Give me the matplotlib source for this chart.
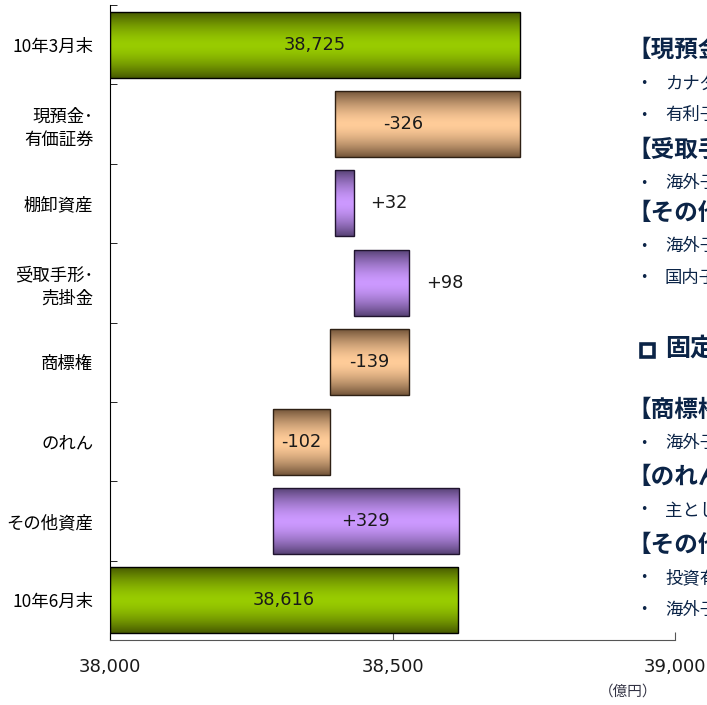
import numpy as np
import matplotlib
matplotlib.use("Agg")
import matplotlib.pyplot as plt
from matplotlib.colors import LinearSegmentedColormap, to_rgb
from matplotlib.patches import Rectangle
from matplotlib.transforms import offset_copy

plt.rcParams['font.family'] = ['Noto Sans CJK JP', 'DejaVu Sans']

# ---- data ----
categories = ["10年3月末", "現預金･\n有価証券", "棚卸資産", "受取手形･\n売掛金",
              "商標権", "のれん", "その他資産", "10年6月末"]
start_total = 38725
changes = [-326, 32, 98, -139, -102, 329]
end_total = 38616
change_labels = ["-326", "+32", "+98", "-139", "-102", "+329"]
x_ticks = [38000, 38500, 39000]
x_ticklabels = ["38,000", "38,500", "39,000"]
unit_label = "（億円）"

headings = [
    ("【現預金・有価証券】", ["カナダ子会社の現預金減少", "有利子負債の返済"]),
    ("【受取手形・売掛金】", ["海外子会社の増加"]),
    ("【その他流動資産】", ["海外子会社の増加", "国内子会社の増加"]),
]
section_title = "固定資産"
headings2 = [
    ("【商標権】", ["海外子会社の償却"]),
    ("【のれん】", ["主として償却による減少"]),
    ("【その他資産】", ["投資有価証券の増加", "海外子会社の増加"]),
]

# ---- figure ----
W, H = 707, 705
fig = plt.figure(figsize=(W / 100, H / 100), dpi=100)
ax = fig.add_axes([110 / W, (H - 640) / H, (675 - 110) / W, (640 - 5) / H])

xmin, xmax = 38000, 39000
ax.set_xlim(xmin, xmax)
ax.set_ylim(7.5, -0.5)

green = ("#475a00", "#99cc00", "#000000")
tan = ("#74563a", "#ffcc99", "#2e2014")
purple = ("#584276", "#cc99ff", "#20142e")

t = np.linspace(-1, 1, 128)
profile = np.clip(1 - np.abs(t) ** 1.6, 0, 1)
grad = profile.reshape(-1, 1)

bar_h = 0.83


def draw_bar(y, left, right, colors):
    dark, light, edge = colors
    cmap = LinearSegmentedColormap.from_list("g", [to_rgb(dark), to_rgb(light)])
    ax.imshow(grad, cmap=cmap, aspect='auto', vmin=0, vmax=1,
              extent=[left, right, y + bar_h / 2, y - bar_h / 2],
              interpolation='bilinear', zorder=2)
    ax.barh(y, right - left, left=left, height=bar_h, facecolor='none',
            edgecolor=edge, linewidth=1.0, zorder=3)


label_kw = dict(fontsize=12.8, color='#1a1a1a', family='DejaVu Sans', zorder=4)

# totals
draw_bar(0, xmin, start_total, green)
ax.text((xmin + start_total) / 2, 0, f"{start_total:,}", ha='center', va='center',
        **label_kw)
draw_bar(7, xmin, end_total, green)
ax.text((xmin + end_total) / 2, 7, f"{end_total:,}", ha='center', va='center',
        **label_kw)

# changes
level = start_total
for i, (d, lab) in enumerate(zip(changes, change_labels)):
    y = i + 1
    new = level + d
    left, right = min(level, new), max(level, new)
    draw_bar(y, left, right, purple if d > 0 else tan)
    if abs(d) < 100 and d > 0:
        tr = offset_copy(ax.transData, fig=fig, x=17, y=0, units='dots')
        ax.text(right, y, lab, ha='left', va='center', transform=tr, **label_kw)
    else:
        dx = -24 if i == 0 else 0
        tr = offset_copy(ax.transData, fig=fig, x=dx, y=0, units='dots')
        ax.text((left + right) / 2, y, lab, ha='center', va='center',
                transform=tr, **label_kw)
    level = new

# axes styling
for s in ('top', 'right'):
    ax.spines[s].set_visible(False)
ax.spines['left'].set_color('#000000')
ax.spines['bottom'].set_color('#555555')

ax.set_yticks(range(len(categories)))
ax.set_yticklabels(categories, fontsize=12.5, linespacing=1.35)
ax.tick_params(axis='y', length=0, pad=12)
ax.set_yticks(np.arange(-0.5, 7.5, 1.0), minor=True)
ax.tick_params(axis='y', which='minor', direction='in', length=5, color='#000000')

ax.set_xticks(x_ticks)
ax.set_xticklabels(x_ticklabels, family='DejaVu Sans', fontsize=13, color='#1a1a1a')
ax.tick_params(axis='x', direction='in', length=6, pad=13, color='#555555')

fig.text(628 / W, 1 - 692 / H, unit_label, fontsize=10.5, style='italic',
         color='#333344', ha='center', va='center')

# commentary panel on the right
navy = '#0b2447'
hx, bx, tx = 627, 640, 665


def put_block(items, y):
    for head, bullets in items:
        fig.text(hx / W, 1 - y / H, head, fontsize=17, fontweight='bold',
                 color=navy, ha='left', va='center')
        y += 33
        for b in bullets:
            fig.text(bx / W, 1 - y / H, "•", fontsize=9, color=navy,
                     ha='left', va='center', family='DejaVu Sans')
            fig.text(tx / W, 1 - y / H, b, fontsize=12.5, color=navy,
                     ha='left', va='center')
            y += 32
    return y


put_block(headings[:1], 50)
put_block(headings[1:2], 150)
put_block(headings[2:], 213)
fig.patches.append(Rectangle((641 / W, 1 - 357 / H), 13 / W, 13 / H,
                             transform=fig.transFigure, facecolor='none',
                             edgecolor=navy, linewidth=2.6))
fig.text(665 / W, 1 - 350 / H, section_title, fontsize=18, fontweight='bold',
         color=navy, ha='left', va='center')
put_block(headings2[:1], 410)
put_block(headings2[1:2], 477)
put_block(headings2[2:], 545)

fig.savefig("out.png", dpi=100)
